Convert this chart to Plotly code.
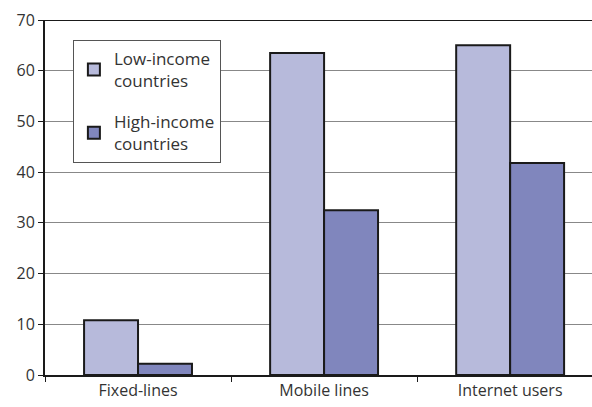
import plotly.graph_objects as go

categories = ["Fixed-lines", "Mobile lines", "Internet users"]
low_income = [10.8, 63.5, 65.0]
high_income = [2.2, 32.5, 41.8]
series_names = ["Low-income<br>countries", "High-income<br>countries"]
y_ticks = [0, 10, 20, 30, 40, 50, 60, 70]

fig = go.Figure()
fig.add_trace(go.Bar(x=categories, y=low_income, name=series_names[0], legendgroup="a",
                     marker=dict(color="#b7badb", line=dict(color="#1a1a1a", width=2))))
fig.add_trace(go.Bar(x=categories, y=high_income, name=series_names[1], legendgroup="b",
                     marker=dict(color="#8086bd", line=dict(color="#1a1a1a", width=2))))

font = "Open Sans, Noto Sans, sans-serif"
fig.update_layout(
    width=592, height=407,
    margin=dict(l=45, r=0, t=20, b=32),
    paper_bgcolor="white", plot_bgcolor="white",
    barmode="group", bargap=0.42, bargroupgap=0,
    font=dict(family=font, size=16, color="#333333"),
    showlegend=True,
    legend=dict(x=0.051, y=0.944, xanchor="left", yanchor="top",
                bordercolor="#555555", borderwidth=1, bgcolor="white",
                font=dict(size=17, color="#333333"), tracegroupgap=16,
                traceorder="grouped", itemwidth=30),
    xaxis=dict(range=[-0.5, 2.44], showline=True, linecolor="#1a1a1a", linewidth=2,
               ticks="outside", tickson="boundaries", ticklen=5, tickcolor="#1a1a1a",
               showgrid=False, tickfont=dict(size=16)),
    yaxis=dict(range=[0, 70], tickvals=y_ticks, showline=True, linecolor="#1a1a1a",
               linewidth=2, ticks="outside", ticklen=5, tickcolor="#1a1a1a",
               showgrid=True, gridcolor="#888888", gridwidth=1, zeroline=False,
               tickfont=dict(size=16)),
)
fig.add_shape(type="line", xref="paper", yref="y", x0=0, x1=1, y0=70, y1=70,
              line=dict(color="#1a1a1a", width=2))
fig.write_html("out.html")
